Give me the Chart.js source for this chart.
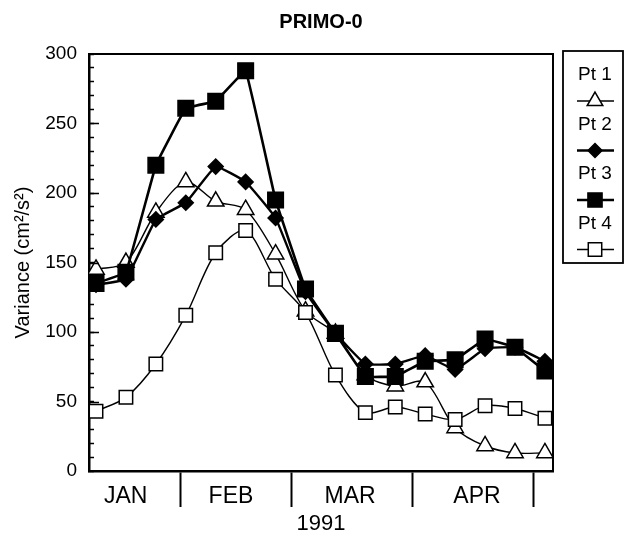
<!DOCTYPE html>
<html lang="en">
<head>
    <meta charset="utf-8" />
    <title>PRIMO-0</title>
    <style>
        html, body { margin: 0; padding: 0; background: #fff; }
        #chartBox { width: 629px; height: 537px; }
    </style>
</head>
<body>
    <div id="chartBox"><canvas id="primoChart"></canvas></div>
    <script src="https://cdn.jsdelivr.net/npm/chart.js"></script>
    <script>
        // sample index along the season (roughly weekly)
        var samples = [0, 1, 2, 3, 4, 5, 6, 7, 8, 9, 10, 11, 12, 13, 14, 15];
        var seriesNames = ['Pt 1', 'Pt 2', 'Pt 3', 'Pt 4'];
        var pt1 = [145, 150, 186, 208, 194, 188, 156, 115, 99, 69, 61, 64, 31, 18, 13, 13];
        var pt2 = [134, 138, 181, 193, 219, 208, 182, 129, 99, 77, 77, 83, 73, 88, 89, 79];
        var pt3 = [135, 143, 220, 261, 266, 288, 195, 131, 99, 68, 68, 79, 80, 95, 89, 72];
        var pt4 = [43, 53, 77, 112, 157, 173, 138, 114, 69, 42, 46, 41, 37, 47, 45, 38];
        var monthNames = ['JAN', 'FEB', 'MAR', 'APR'];
        var monthCenters = [0.99, 4.51, 8.49, 12.73];
        var monthEdges = [2.81, 6.52, 10.59, 14.63];
        var yMin = 0, yMax = 300, yStep = 10, yLabelStep = 50;

        var FONT = 'Liberation Sans, Arial, sans-serif';

        function toPoints(vals) {
            return vals.map(function (v, i) { return { x: samples[i], y: v }; });
        }

        var styles = [
            { pointStyle: 'triangle', radius: 9.5, fill: '#fff', line: 1.4, tension: 0.3, order: 3, legendRadius: 9 },
            { pointStyle: 'rectRot', radius: 7.5, fill: '#000', line: 2.4, tension: 0.1, order: 1, legendRadius: 7 },
            { pointStyle: 'rect', radius: 11, fill: '#000', line: 2.6, tension: 0.05, order: 0, legendRadius: 10 },
            { pointStyle: 'rect', radius: 9.5, fill: '#fff', line: 1.4, tension: 0.3, order: 2, legendRadius: 9.5 }
        ];
        var allSeries = [pt1, pt2, pt3, pt4];

        var datasets = allSeries.map(function (vals, k) {
            var s = styles[k];
            return {
                label: seriesNames[k],
                data: toPoints(vals),
                borderColor: '#000',
                borderWidth: s.line,
                tension: s.tension,
                pointStyle: s.pointStyle,
                pointRadius: s.radius,
                pointBackgroundColor: s.fill,
                pointBorderColor: '#000',
                pointBorderWidth: 1.5,
                order: s.order
            };
        });

        // top + right edges of the plot frame, longer ticks every 50
        var framePlugin = {
            id: 'frame',
            afterDraw: function (chart) {
                var a = chart.chartArea, ctx = chart.ctx, y = chart.scales.y;
                ctx.save();
                ctx.strokeStyle = '#000';
                ctx.lineWidth = 2;
                ctx.beginPath();
                ctx.moveTo(a.left, a.top);
                ctx.lineTo(a.right, a.top);
                ctx.lineTo(a.right, a.bottom);
                ctx.stroke();
                ctx.lineWidth = 1.5;
                ctx.beginPath();
                for (var v = yMin + yLabelStep; v < yMax; v += yLabelStep) {
                    var py = Math.round(y.getPixelForValue(v)) + 0.5;
                    ctx.moveTo(a.left, py);
                    ctx.lineTo(a.left + 10, py);
                }
                ctx.stroke();
                ctx.restore();
            }
        };

        // boxed legend: name above a sample line with its marker
        var boxLegend = {
            id: 'boxLegend',
            afterDraw: function (chart) {
                var ctx = chart.ctx;
                var a = chart.chartArea;
                var x0 = a.right + 10, x1 = a.right + 70, cx = a.right + 42;
                ctx.save();
                ctx.strokeStyle = '#000';
                ctx.lineWidth = 1.8;
                ctx.strokeRect(x0, a.top - 3, x1 - x0, 212);
                ctx.font = '19px ' + FONT;
                ctx.textAlign = 'center';
                ctx.textBaseline = 'middle';
                chart.data.datasets.forEach(function (ds, k) {
                    var ty = a.top + 21 + k * 49.5;
                    var my = ty + 26;
                    ctx.fillStyle = '#000';
                    ctx.fillText(ds.label, cx, ty);
                    ctx.lineWidth = ds.borderWidth;
                    ctx.beginPath();
                    ctx.moveTo(cx - 18, my);
                    ctx.lineTo(cx + 19, my);
                    ctx.stroke();
                    ctx.fillStyle = ds.pointBackgroundColor;
                    ctx.lineWidth = 1.5;
                    Chart.helpers.drawPoint(ctx, {
                        pointStyle: ds.pointStyle,
                        rotation: 0,
                        radius: styles[k].legendRadius,
                        borderWidth: 1.5
                    }, cx, my);
                });
                ctx.restore();
            }
        };

        var ctx = document.getElementById('primoChart').getContext('2d');
        var primoChart = new Chart(ctx, {
            type: 'line',
            data: { datasets: datasets },
            plugins: [framePlugin, boxLegend],
            options: {
                responsive: true,
                maintainAspectRatio: false,
                devicePixelRatio: 1,
                animation: false,
                layout: { padding: { left: 0, right: 76, top: 0, bottom: 0 } },
                plugins: {
                    legend: { display: false },
                    tooltip: { enabled: false },
                    title: {
                        display: true,
                        text: 'PRIMO-0',
                        fullSize: false,
                        color: '#000',
                        font: { family: FONT, size: 20, weight: 'bold' },
                        padding: { top: 10, bottom: 20 }
                    }
                },
                scales: {
                    x: {
                        type: 'linear',
                        min: -0.234,
                        max: 15.27,
                        afterBuildTicks: function (scale) {
                            scale.ticks = monthEdges.concat(monthCenters).map(function (v) { return { value: v }; });
                        },
                        afterFit: function (scale) { scale.height = 66; },
                        border: { display: true, color: '#000', width: 2.5 },
                        grid: {
                            drawOnChartArea: false,
                            drawTicks: true,
                            tickLength: 36,
                            tickWidth: 2,
                            tickColor: function (c) {
                                return (c.tick && monthEdges.indexOf(c.tick.value) >= 0) ? '#000' : 'rgba(0,0,0,0)';
                            }
                        },
                        ticks: {
                            autoSkip: false,
                            maxRotation: 0,
                            padding: -24,
                            color: '#000',
                            font: { family: FONT, size: 23 },
                            callback: function (value) {
                                var i = monthCenters.indexOf(value);
                                return i >= 0 ? monthNames[i] : '';
                            }
                        },
                        title: {
                            display: true,
                            text: '1991',
                            color: '#000',
                            font: { family: FONT, size: 22 },
                            padding: { top: 0, bottom: 0 }
                        }
                    },
                    y: {
                        min: yMin,
                        max: yMax,
                        afterFit: function (scale) { scale.width = 89; },
                        border: { display: true, color: '#000', width: 2.5 },
                        grid: {
                            drawOnChartArea: false,
                            drawTicks: true,
                            tickLength: -5,
                            tickWidth: 1.5,
                            tickColor: '#000'
                        },
                        ticks: {
                            stepSize: yStep,
                            autoSkip: false,
                            padding: 17,
                            color: '#000',
                            font: { family: FONT, size: 19 },
                            callback: function (value) {
                                return value % yLabelStep === 0 ? String(value) : '';
                            }
                        },
                        title: {
                            display: true,
                            text: 'Variance (cm²/s²)',
                            color: '#000',
                            font: { family: FONT, size: 20 },
                            padding: { top: 11, bottom: 0 }
                        }
                    }
                }
            }
        });
    </script>
</body>
</html>
